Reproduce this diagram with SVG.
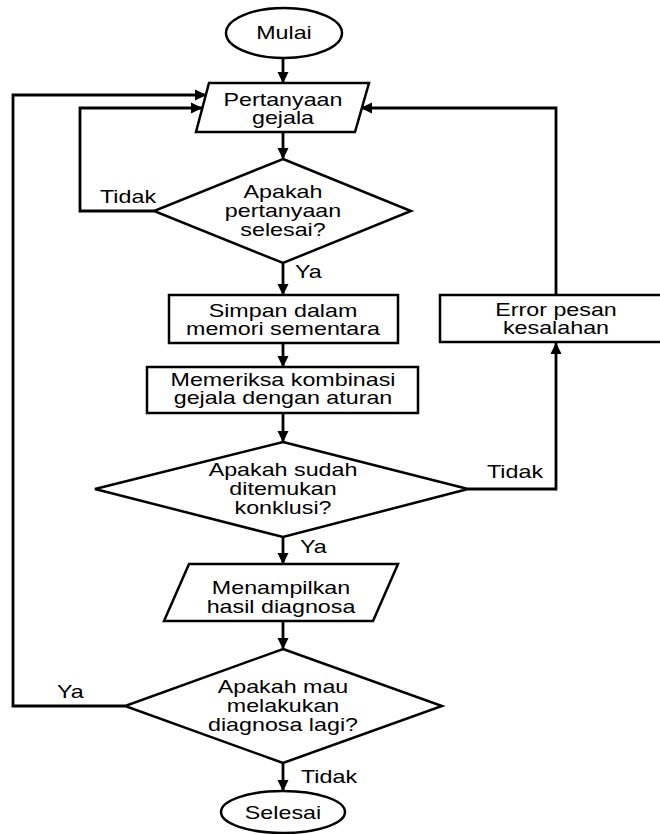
<svg xmlns="http://www.w3.org/2000/svg" width="660" height="834" viewBox="0 0 660 834">
  <style>
    .shape { fill: #fff; stroke: #000; stroke-width: 2.5; }
    .line { fill: none; stroke: #000; stroke-width: 2.8; }
    text { font-family: "Liberation Sans", Arial, sans-serif; font-size: 17.5px; fill: #000; }
    .c { text-anchor: middle; }
  </style>
  <defs>
    <marker id="arrow" markerUnits="userSpaceOnUse" markerWidth="12" markerHeight="12" viewBox="0 0 12 12" refX="11" refY="6" orient="auto">
      <path d="M0,0.5 L11.5,6 L0,11.5 Z" fill="#000"/>
    </marker>
  </defs>
  <rect width="660" height="834" fill="#fff"/>

  <!-- connectors -->
  <g id="connectors" class="line">
    <path d="M283,58 V83" marker-end="url(#arrow)"/>
    <path d="M283,132 V159" marker-end="url(#arrow)"/>
    <path d="M154,211 H80 V108 H202" marker-end="url(#arrow)"/>
    <path d="M283,263 V295" marker-end="url(#arrow)"/>
    <path d="M283,343 V367" marker-end="url(#arrow)"/>
    <path d="M283,413 V442" marker-end="url(#arrow)"/>
    <path d="M468,489 H556 V343" marker-end="url(#arrow)"/>
    <path d="M556,295 V108 H361" marker-end="url(#arrow)"/>
    <path d="M283,537 V564" marker-end="url(#arrow)"/>
    <path d="M283,621 V649" marker-end="url(#arrow)"/>
    <path d="M125,706 H13 V95 H206" marker-end="url(#arrow)"/>
    <path d="M283,763 V791" marker-end="url(#arrow)"/>
  </g>

  <!-- branch labels -->
  <g id="labels">
    <text transform="translate(100 203) scale(1.33 1)">Tidak</text>
    <text transform="translate(295 278) scale(1.33 1)">Ya</text>
    <text transform="translate(487 478) scale(1.33 1)">Tidak</text>
    <text transform="translate(300 553) scale(1.33 1)">Ya</text>
    <text transform="translate(57 698) scale(1.33 1)">Ya</text>
    <text transform="translate(301 783) scale(1.33 1)">Tidak</text>
  </g>

  <g id="mulai">
    <ellipse class="shape" cx="284" cy="33" rx="58" ry="25"/>
    <text class="c" transform="translate(284 39) scale(1.33 1)">Mulai</text>
  </g>

  <g id="pertanyaan-gejala">
    <polygon class="shape" points="209,83 369,83 355,132 196,132"/>
    <text class="c" transform="translate(283 106) scale(1.33 1)">Pertanyaan</text>
    <text class="c" transform="translate(283 124) scale(1.33 1)">gejala</text>
  </g>

  <g id="cek-pertanyaan">
    <polygon class="shape" points="283,159 411,211 283,263 154,211"/>
    <text class="c" transform="translate(283 198) scale(1.33 1)">Apakah</text>
    <text class="c" transform="translate(283 217) scale(1.33 1)">pertanyaan</text>
    <text class="c" transform="translate(283 236) scale(1.33 1)">selesai?</text>
  </g>

  <g id="simpan">
    <rect class="shape" x="169" y="295" width="229" height="48"/>
    <text class="c" transform="translate(283 317) scale(1.33 1)">Simpan dalam</text>
    <text class="c" transform="translate(283 335) scale(1.33 1)">memori sementara</text>
  </g>

  <g id="memeriksa">
    <rect class="shape" x="147" y="367" width="271" height="46"/>
    <text class="c" transform="translate(283 386) scale(1.33 1)">Memeriksa kombinasi</text>
    <text class="c" transform="translate(283 404) scale(1.33 1)">gejala dengan aturan</text>
  </g>

  <g id="error">
    <rect class="shape" x="440" y="295" width="240" height="47"/>
    <text class="c" transform="translate(556 316) scale(1.33 1)">Error pesan</text>
    <text class="c" transform="translate(556 334) scale(1.33 1)">kesalahan</text>
  </g>

  <g id="cek-konklusi">
    <polygon class="shape" points="283,442 468,489 283,537 95,489"/>
    <text class="c" transform="translate(283 476) scale(1.33 1)">Apakah sudah</text>
    <text class="c" transform="translate(283 495) scale(1.33 1)">ditemukan</text>
    <text class="c" transform="translate(283 514) scale(1.33 1)">konklusi?</text>
  </g>

  <g id="menampilkan">
    <polygon class="shape" points="189,564 398,564 373,621 164,621"/>
    <text class="c" transform="translate(281 594) scale(1.33 1)">Menampilkan</text>
    <text class="c" transform="translate(281 613) scale(1.33 1)">hasil diagnosa</text>
  </g>

  <g id="cek-lagi">
    <polygon class="shape" points="283,649 442,706 283,763 125,706"/>
    <text class="c" transform="translate(283 693) scale(1.33 1)">Apakah mau</text>
    <text class="c" transform="translate(283 712) scale(1.33 1)">melakukan</text>
    <text class="c" transform="translate(283 731) scale(1.33 1)">diagnosa lagi?</text>
  </g>

  <g id="selesai">
    <ellipse class="shape" cx="283" cy="812" rx="62" ry="21"/>
    <text class="c" transform="translate(283 819) scale(1.33 1)">Selesai</text>
  </g>
</svg>
